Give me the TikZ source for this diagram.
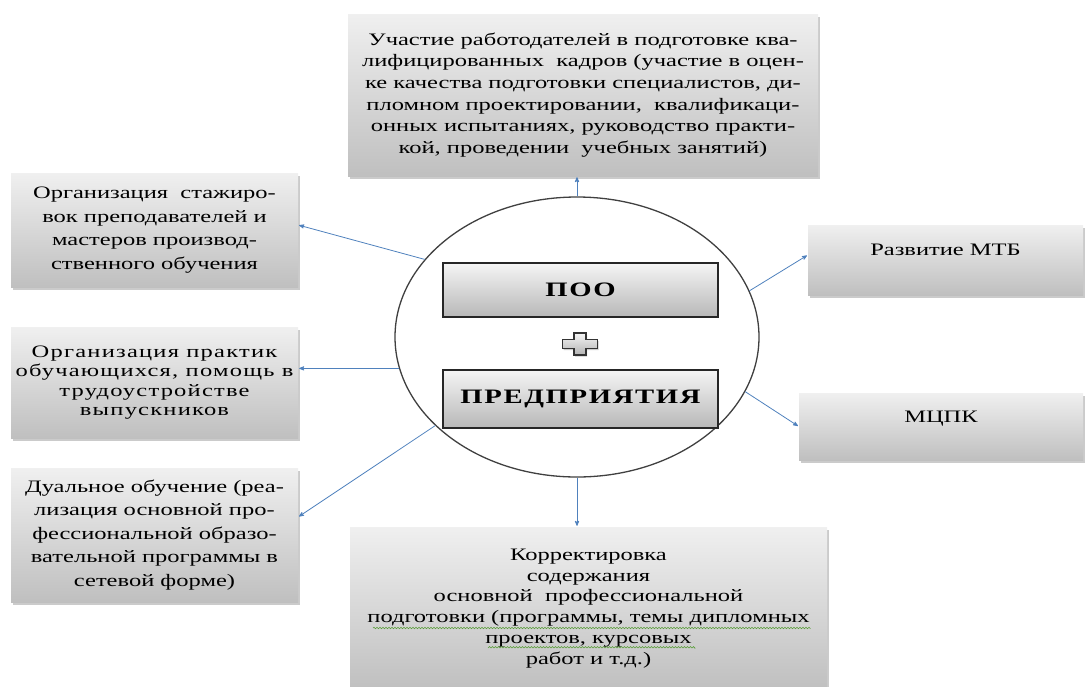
\documentclass[tikz,border=0pt]{standalone}
\usepackage{fontspec}
\setmainfont{Liberation Serif}[FakeStretch=1.4]
\usetikzlibrary{arrows}
\usetikzlibrary{shapes.geometric}
\usetikzlibrary{shadows}
\usetikzlibrary{decorations.pathmorphing}
\definecolor{linkblue}{HTML}{4F81BD}
\definecolor{spellgreen}{HTML}{5A9E3A}

\begin{document}
\begin{tikzpicture}[x=1pt,y=-1pt,->,>=stealth',shorten >=1pt,thin,
	gray box/.style={rectangle,inner sep=0pt,align=center,
		top color=black!6,bottom color=black!25,
		drop shadow={shadow xshift=1.5pt,shadow yshift=-2.5pt,opacity=.45,fill=black!45},
		font=\fontsize{17.5}{21.6}\selectfont},
	main box/.style={rectangle,draw=black!85,line width=1.2pt,inner sep=0pt,
		top color=black!4,bottom color=black!28,minimum width=275pt,
		font=\fontsize{20.5}{24}\selectfont\bfseries\addfontfeatures{LetterSpace=8}}]
	
	\useasboundingbox (0,0) rectangle (1085,686);
	
	% central part
	\node[ellipse,draw=black!75,line width=1.3pt,fill=white,
		minimum width=364pt,minimum height=280pt] (circ) at (577,337) {};
	\node[main box,minimum height=54pt] (poo) at (580.5,290) {ПОО};
	\node[main box,minimum height=58pt] (pred) at (580.5,399) {ПРЕДПРИЯТИЯ};
	\coordinate (plus) at (580,344);
	\draw[-,draw=black!80,line width=1.2pt,top color=black!4,bottom color=black!30,
		drop shadow={shadow xshift=1pt,shadow yshift=-1.5pt,opacity=.4}]
		(plus) ++(-6,-11) -- ++(12,0) -- ++(0,6.5) -- ++(11.5,0) -- ++(0,9)
		-- ++(-11.5,0) -- ++(0,6.5) -- ++(-12,0) -- ++(0,-6.5) -- ++(-11.5,0)
		-- ++(0,-9) -- ++(11.5,0) -- cycle;
	
	% outer boxes
	\node[gray box,minimum width=470pt,minimum height=162pt] (top) at (583,95)
		{Участие работодателей в подготовке ква-\\
		лифицированных \ кадров (участие в оцен-\\
		ке качества подготовки специалистов, ди-\\
		пломном проектировании, \ квалификаци-\\
		онных испытаниях, руководство практи-\\
		кой, проведении \ учебных занятий)};
	\node[gray box,minimum width=287pt,minimum height=114pt,
		font=\fontsize{17.5}{23.5}\selectfont] (stage) at (154.5,230)
		{Организация \ стажиро-\\
		вок преподавателей и\\
		мастеров производ-\\
		ственного обучения};
	\node[gray box,minimum width=287pt,minimum height=111pt,
		font=\fontsize{17.5}{19.3}\selectfont\addfontfeatures{LetterSpace=7}] (practice) at (154.5,382.5)
		{Организация практик\\
		обучающихся, помощь в\\
		трудоустройстве\\
		выпускников};
	\node[gray box,minimum width=287pt,minimum height=134pt,
		font=\fontsize{17.5}{23.5}\selectfont] (dual) at (154.5,535)
		{Дуальное обучение (реа-\\
		лизация основной про-\\
		фессиональной образо-\\
		вательной программы в\\
		сетевой форме)};
	\node[gray box,minimum width=275pt,minimum height=70pt,text depth=20pt] (mtb) at (945.5,260)
		{Развитие МТБ};
	\node[gray box,minimum width=284pt,minimum height=67pt,text depth=20pt] (mcpk) at (941,426.5)
		{МЦПК};
	\node[gray box,minimum width=477pt,minimum height=163pt,
		font=\fontsize{17.5}{20.8}\selectfont] (correct) at (588.5,608.5)
		{Корректировка\\
		содержания\\
		основной \ профессиональной\\
		подготовки (программы, темы дипломных\\
		проектов, курсовых\\
		работ и т.д.)};
	
	% spelling marks
	\draw[-,spellgreen,line width=.6pt,decorate,
		decoration={snake,amplitude=.7pt,segment length=3pt}]
		(373,628) -- (810,628) (488,648) -- (695,648);
	
	\path[every edge/.style={draw=linkblue,line width=.8pt}]
	(circ.90) edge (circ.90 |- top.south)
	(circ.270) edge (circ.270 |- correct.north)
	(circ.153) edge ([yshift=5pt]stage.east)
	(circ.190) edge (practice.east |- circ.190)
	(circ.212) edge ([yshift=18pt]dual.east)
	(circ.15) edge ([yshift=5pt]mtb.west)
	(circ.342) edge (mcpk.west)
	;
\end{tikzpicture}
\end{document}
